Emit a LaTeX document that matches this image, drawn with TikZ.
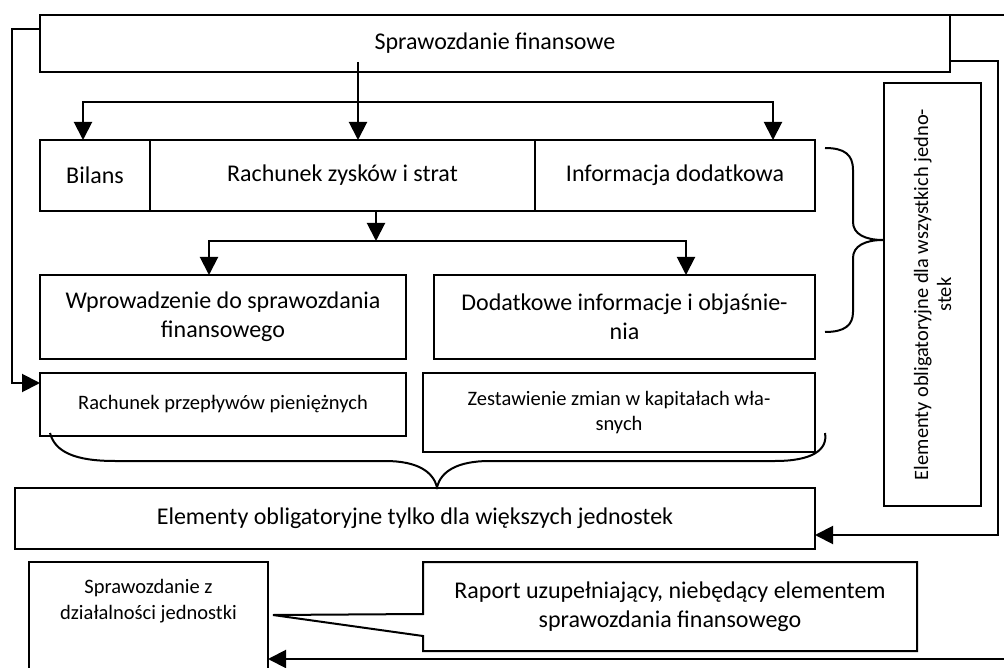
\documentclass[tikz,border=0pt]{standalone}
\usepackage{fontspec}
\setmainfont{Carlito}
\usetikzlibrary{arrows.meta}

\tikzset{
box/.style={rectangle, draw=black, line width=2pt, inner sep=0pt, outer sep=0pt,
align=center, font=\fontsize{24}{29}\selectfont},
sbox/.style={box, font=\fontsize{20.5}{25.5}\selectfont},
vbox/.style={box, font=\fontsize{20.4}{23}\selectfont},
arr/.style={line width=2pt, -{Triangle[width=18pt,length=18pt]}},
brace/.style={line width=2pt},
}

\begin{document}
\begin{tikzpicture}[x=1pt, y=-1pt]
% 1pt = 1px of the picture, y runs down
\useasboundingbox (0, 0) rectangle (1004, 668);
\draw (495, 43.5) node[box, minimum width=910pt, minimum height=57pt] (top) {Sprawozdanie finansowe};
	\draw (95, 175.5) node[box, minimum width=110pt, minimum height=71pt] (bil) {Bilans};
	\draw (342.5, 175.5) node[box, minimum width=385pt, minimum height=71pt] (rzis) {Rachunek zysków i strat};
	\draw (675, 175.5) node[box, minimum width=280pt, minimum height=71pt] (info) {Informacja dodatkowa};
	\draw (223, 317) node[box, minimum width=366pt, minimum height=84pt] (wpr) {Wprowadzenie do sprawozdania\\finansowego};
	\draw (624.5, 317) node[box, minimum width=381pt, minimum height=84pt] (dod) {Dodatkowe informacje i objaśnie-\\nia};
	\draw (223, 404.5) node[sbox, minimum width=366pt, minimum height=63pt] (rpp) {Rachunek przepływów pieniężnych};
	\draw (619, 412.5) node[sbox, minimum width=392pt, minimum height=79pt] (zzk) {Zestawienie zmian w kapitałach wła-\\snych};
	\draw (932.5, 294.5) node[vbox, rotate=90, minimum width=423pt, minimum height=97pt] (obw) {Elementy obligatoryjne dla wszystkich jedno-\\stek};
\draw (415, 518.5) node[box, minimum width=800pt, minimum height=61pt] (obg) {Elementy obligatoryjne tylko dla większych jednostek};
	\draw (148.5, 618) node[sbox, minimum width=239pt, minimum height=112pt] (dz) {};
	\draw (148.5, 601) node[sbox, draw=none] (dzt) {Sprawozdanie z\\działalności jednostki};
	\draw (670, 606.5) node[box, draw=none, minimum width=494pt, minimum height=89pt] (rap) {Raport uzupełniający, niebędący elementem\\sprawozdania finansowego};

\coordinate (c1) at (358, 62);
\coordinate (split1) at (358, 102);
\coordinate (split2) at (376, 241);
\coordinate (outT) at (1004, 15);
\coordinate (outB) at (1004, 659);
\coordinate (rapA) at (423, 614);
\coordinate (rapB) at (423, 636);
\coordinate (rapP) at (273, 615);

\draw[arr] (c1) -- (c1 |- rzis.north);
\draw[arr] (split1) -| ([xshift=-12pt]bil.north);
\draw[arr] (split1) -| ([xshift=98pt]info.north);
\draw[arr] (split2 |- rzis.south) -- (split2);
\draw[arr] (split2) -| ([xshift=-14pt]wpr.north);
\draw[arr] (split2) -| ([xshift=61.5pt]dod.north);
\draw[arr] ([yshift=-14pt]top.north west) -- ++(-28, 0) |- ([yshift=-10pt]rpp.north west);
\draw[arr] ([yshift=11pt]top.south east) -- ++(48, 0) |- ([yshift=-16.5pt]obg.east);
\draw[line width=2pt] (top.north east) -- (top.north east -| outT);
\draw[arr] (outB) -- (outB -| dz.east);
\draw[line width=2pt] (rap.north west) -- (rap.north east) -- (rap.south east) -- (rap.south west) -- (rapB) -- (rapP) -- (rapA) -- cycle;

\draw[brace] (825, 148) .. controls (845, 148) and (853, 155) .. (853, 170) -- (853, 222)
	.. controls (853, 234) and (865, 240) .. (883, 240) .. controls (865, 240) and (853, 246) .. (853, 258)
	-- (853, 312) .. controls (853, 325) and (845, 332) .. (825, 332);
\draw[brace] (50, 433) .. controls (55, 452) and (75, 461) .. (115, 461) -- (385, 461)
	.. controls (418, 461) and (433, 472) .. (437, 487) .. controls (441, 472) and (456, 461) .. (490, 461)
	-- (775, 461) .. controls (812, 461) and (828, 450) .. (825, 433);
\end{tikzpicture}
\end{document}
